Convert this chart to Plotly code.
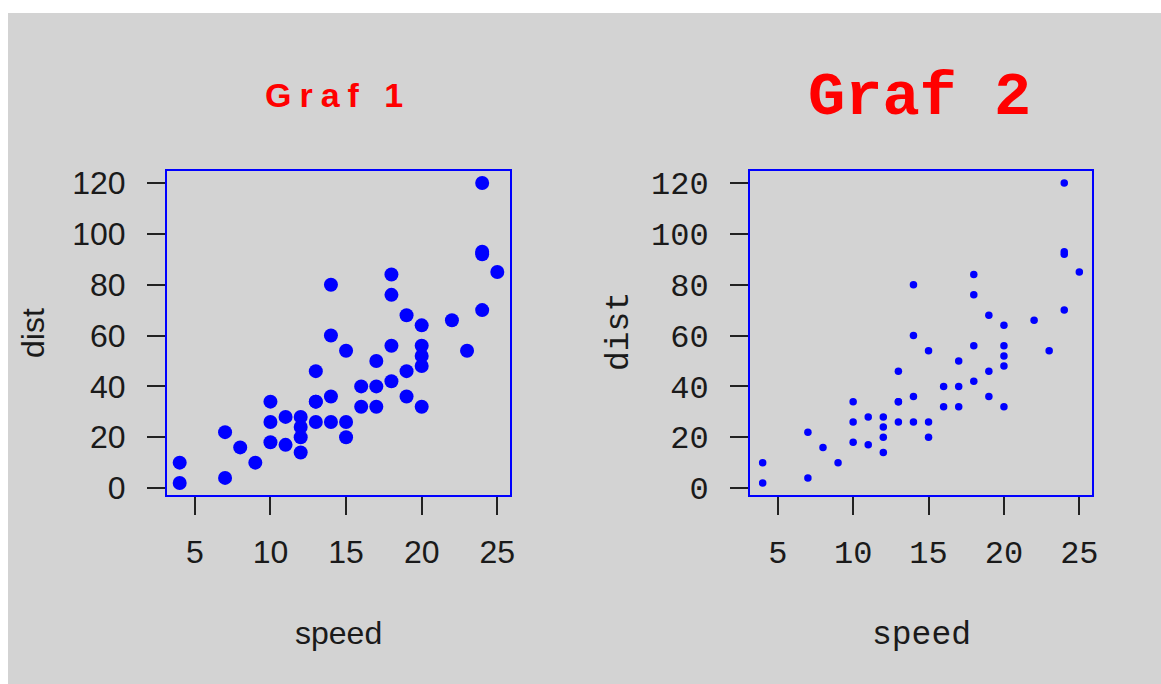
import plotly.graph_objects as go

# cars data set: speed (mph) and stopping distance (ft)
speed = [4, 4, 7, 7, 8, 9, 10, 10, 10, 11, 11, 12, 12, 12, 12, 13, 13, 13, 13,
         14, 14, 14, 14, 15, 15, 15, 16, 16, 17, 17, 17, 18, 18, 18, 18, 19, 19,
         19, 20, 20, 20, 20, 20, 22, 23, 24, 24, 24, 24, 25]
dist = [2, 10, 4, 22, 16, 10, 18, 26, 34, 17, 28, 14, 20, 24, 28, 26, 34, 34, 46,
        26, 36, 60, 80, 20, 26, 54, 32, 40, 32, 40, 50, 42, 56, 76, 84, 36, 46,
        68, 32, 48, 52, 56, 64, 66, 54, 70, 92, 93, 120, 85]

x_ticks = [5, 10, 15, 20, 25]
y_ticks = [0, 20, 40, 60, 80, 100, 120]

W, H = 1161, 684
BG = "#D3D3D3"
SANS = "Liberation Sans, Arial, sans-serif"
MONO = "Liberation Mono, Courier New, monospace"


def px_x(p):
    return p / W


def px_y(p):
    return 1 - p / H


# R-style 4% padding on data ranges
def padded(vals):
    lo, hi = min(vals), max(vals)
    d = (hi - lo) * 0.04
    return [lo - d, hi + d]


xr = padded(speed)
yr = padded(dist)

fig = go.Figure()

fig.add_trace(go.Scatter(x=speed, y=dist, mode="markers", xaxis="x", yaxis="y",
                         marker=dict(color="#0000FF", size=14, line=dict(width=0)),
                         showlegend=False, hoverinfo="x+y"))
fig.add_trace(go.Scatter(x=speed, y=dist, mode="markers", xaxis="x2", yaxis="y2",
                         marker=dict(color="#0000FF", size=7.5, line=dict(width=0)),
                         showlegend=False, hoverinfo="x+y"))


def axis_common(font_family, size, rng, ticks, domain, anchor, standoff):
    return dict(
        domain=domain, anchor=anchor, range=rng, autorange=False,
        tickmode="array", tickvals=ticks, ticktext=[str(t) for t in ticks],
        ticks="outside", ticklen=18, tickwidth=2, tickcolor="#222222",
        showline=True, mirror=True, linecolor="#0000FF", linewidth=2,
        showgrid=False, zeroline=False, automargin=False,
        tickfont=dict(family=font_family, size=size, color="#1a1a1a"),
        ticklabelstandoff=standoff,
    )


ydom = [px_y(495), px_y(171)]
fig.update_layout(
    width=W, height=H,
    margin=dict(l=0, r=0, t=0, b=0, pad=0, autoexpand=False),
    paper_bgcolor=BG,
    plot_bgcolor="rgba(0,0,0,0)",
    xaxis=axis_common(SANS, 32, xr, x_ticks, [px_x(167), px_x(510)], "y", 10),
    yaxis=axis_common(SANS, 32, yr, y_ticks, ydom, "x", 15),
    xaxis2=axis_common(MONO, 32, xr, x_ticks, [px_x(750), px_x(1092)], "y2", 10),
    yaxis2=axis_common(MONO, 32, yr, y_ticks, ydom, "x2", 15),
    # white strips along the top and left edges of the page
    shapes=[
        dict(type="rect", xref="paper", yref="paper", layer="below",
             x0=-0.1, x1=1.1, y0=px_y(13), y1=1.1,
             fillcolor="white", line=dict(width=0)),
        dict(type="rect", xref="paper", yref="paper", layer="below",
             x0=-0.1, x1=px_x(8), y0=-0.1, y1=1.1,
             fillcolor="white", line=dict(width=0)),
    ],
)


def label(text, x, y, family, size, color="#1a1a1a", angle=0, bold=False):
    fig.add_annotation(
        text=f"<b>{text}</b>" if bold else text,
        x=px_x(x), y=px_y(y), xref="paper", yref="paper",
        xanchor="center", yanchor="middle", showarrow=False,
        textangle=angle, font=dict(family=family, size=size, color=color),
    )


# titles
label('<span style="letter-spacing:8px">Graf 1</span>', 338, 95, SANS, 34,
      color="#FF0000", bold=True)
label("Graf 2", 919, 97, MONO, 62, color="#FF0000", bold=True)

# axis titles
label("speed", 338, 633, SANS, 32)
label("dist", 33, 333, SANS, 32, angle=-90)
label("speed", 921, 635, MONO, 33)
label("dist", 619, 332, MONO, 33, angle=-90)

fig.write_html("out.html")
